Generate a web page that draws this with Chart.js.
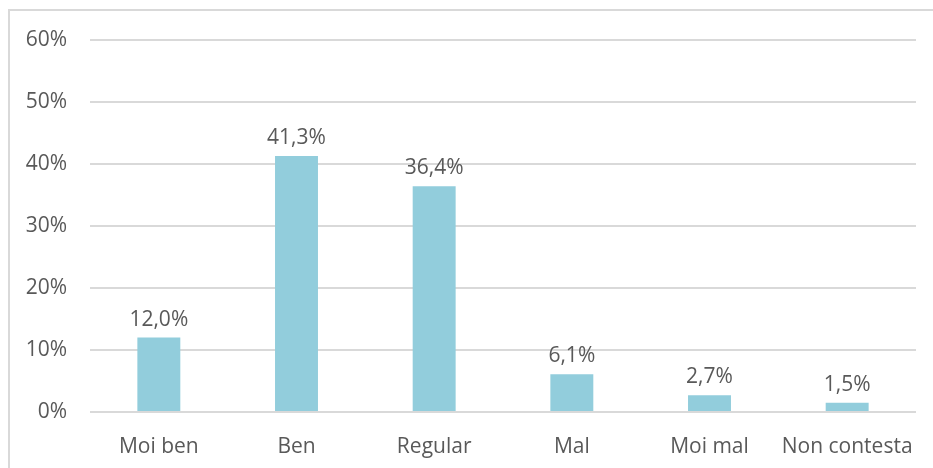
<!DOCTYPE html>
<html>
<head>
<meta charset="utf-8">
<script src="https://cdn.jsdelivr.net/npm/chart.js@4"></script>
<style>
  html, body { margin: 0; padding: 0; background: #fff; overflow: hidden; }
  #frame {
    position: absolute; left: 8px; top: 9px; width: 1000px; height: 600px;
    border-left: 2px solid #d9d9d9; border-top: 2px solid #d9d9d9;
  }
  #wrap { position: absolute; left: 0; top: 0; width: 933px; height: 468px; }
</style>
</head>
<body>
<div id="frame"></div>
<div id="wrap"><canvas id="chart"></canvas></div>
<script>
// Chart data
const categories = ['Moi ben', 'Ben', 'Regular', 'Mal', 'Moi mal', 'Non contesta'];
const values = [12.0, 41.3, 36.4, 6.1, 2.7, 1.5];
const yTicks = [0, 10, 20, 30, 40, 50, 60];

const FONT = '"Open Sans", sans-serif';
const TEXT = '#595959';

// draws "12,0%" style labels above each bar
const barLabels = {
  id: 'barLabels',
  afterDatasetsDraw(chart) {
    const ctx = chart.ctx;
    const meta = chart.getDatasetMeta(0);
    ctx.save();
    ctx.font = '21px ' + FONT;
    ctx.fillStyle = TEXT;
    ctx.textAlign = 'center';
    ctx.textBaseline = 'alphabetic';
    meta.data.forEach((bar, i) => {
      const txt = values[i].toFixed(1).replace('.', ',') + '%';
      ctx.fillText(txt, bar.x, bar.y - 12);
    });
    ctx.restore();
  }
};

new Chart(document.getElementById('chart'), {
  type: 'bar',
  data: {
    labels: categories,
    datasets: [{
      data: values,
      backgroundColor: '#92cddc',
      borderWidth: 0,
      barPercentage: 0.312,
      categoryPercentage: 1
    }]
  },
  options: {
    responsive: true,
    maintainAspectRatio: false,
    animation: false,
    layout: { padding: { left: 0, right: 17, top: 40, bottom: 0 } },
    plugins: { legend: { display: false }, tooltip: { enabled: false } },
    scales: {
      x: {
        grid: { display: false },
        border: { display: false },
        ticks: { color: TEXT, font: { family: FONT, size: 21 }, padding: 14, maxRotation: 0, autoSkip: false },
        afterFit(scale) { scale.height = 56; }
      },
      y: {
        min: yTicks[0],
        max: yTicks[yTicks.length - 1],
        afterBuildTicks(scale) { scale.ticks = yTicks.map(v => ({ value: v })); },
        grid: { color: '#d9d9d9', lineWidth: 2, drawTicks: false },
        border: { display: false },
        ticks: {
          color: TEXT,
          font: { family: FONT, size: 21 },
          padding: 23,
          callback: v => v + '%'
        },
        afterFit(scale) { scale.width = 90; }
      }
    }
  },
  plugins: [barLabels]
});
</script>
</body>
</html>
